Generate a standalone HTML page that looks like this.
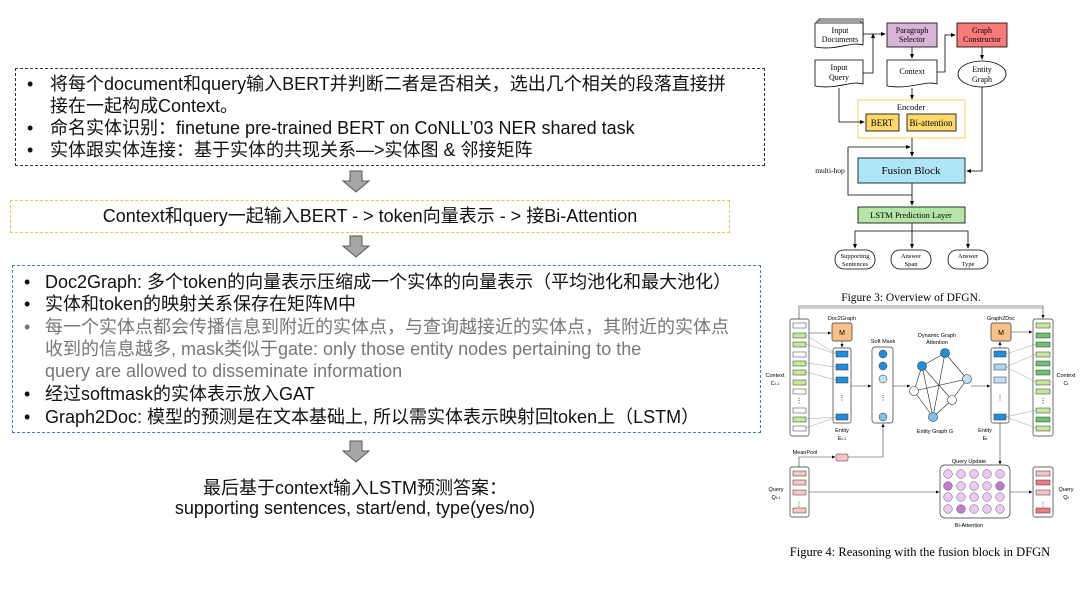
<!DOCTYPE html>
<html><head><meta charset="utf-8"><style>
body{margin:0;width:1080px;height:610px;background:#fff;position:relative;overflow:hidden;font-family:"Liberation Sans","Noto Sans CJK SC",sans-serif;}
.l{position:absolute;white-space:nowrap;font-size:18px;color:#111;line-height:22px;}
.g{color:#777;}
.box{position:absolute;border-style:dashed;border-width:1.5px;}
svg{position:absolute;left:0;top:0;}
</style></head><body>
<div class="box" style="left:15px;top:68px;width:748px;height:96px;border-color:#333"></div>
<div class="l" style="left:27px;top:73px">•</div>
<div class="l" style="left:50px;top:73px">将每个document和query输入BERT并判断二者是否相关，选出几个相关的段落直接拼</div>
<div class="l" style="left:50px;top:95px">接在一起构成Context。</div>
<div class="l" style="left:27px;top:117px">•</div>
<div class="l" style="left:50px;top:117px">命名实体识别：finetune pre-trained BERT on CoNLL’03 NER shared task</div>
<div class="l" style="left:27px;top:139px">•</div>
<div class="l" style="left:50px;top:139px">实体跟实体连接：基于实体的共现关系—>实体图 &amp; 邻接矩阵</div>

<div class="box" style="left:10px;top:200px;width:718px;height:31px;border-color:#f5c342"></div>
<div class="l" style="left:0;width:740px;text-align:center;top:205px">Context和query一起输入BERT - &gt; token向量表示 - &gt; 接Bi-Attention</div>

<div class="box" style="left:12px;top:265px;width:747px;height:166px;border-color:#3a7fc8"></div>
<div class="l" style="left:24px;top:271px">•</div>
<div class="l" style="left:45px;top:271px">Doc2Graph: 多个token的向量表示压缩成一个实体的向量表示（平均池化和最大池化）</div>
<div class="l" style="left:24px;top:293px">•</div>
<div class="l" style="left:45px;top:293px">实体和token的映射关系保存在矩阵M中</div>
<div class="l g" style="left:24px;top:316px">•</div>
<div class="l g" style="left:45px;top:316px">每一个实体点都会传播信息到附近的实体点，与查询越接近的实体点，其附近的实体点</div>
<div class="l g" style="left:45px;top:338px">收到的信息越多, mask类似于gate: only those entity nodes pertaining to the</div>
<div class="l g" style="left:45px;top:360px">query are allowed to disseminate information</div>
<div class="l" style="left:24px;top:383px">•</div>
<div class="l" style="left:45px;top:383px">经过softmask的实体表示放入GAT</div>
<div class="l" style="left:24px;top:406px">•</div>
<div class="l" style="left:45px;top:406px">Graph2Doc: 模型的预测是在文本基础上, 所以需实体表示映射回token上（LSTM）</div>

<div class="l" style="left:0;width:710px;text-align:center;top:477px">最后基于context输入LSTM预测答案：</div>
<div class="l" style="left:0;width:710px;text-align:center;top:497px">supporting sentences, start/end, type(yes/no)</div>

<svg width="1080" height="610" viewBox="0 0 1080 610" font-family="Liberation Serif, serif">
<defs>
<marker id="a" markerWidth="6" markerHeight="6" refX="5" refY="3" orient="auto"><path d="M0,0.5L6,3L0,5.5z" fill="#000"/></marker>
<g id="ga"><path d="M-6,0h12v10h7l-13,11l-13,-11h7z" fill="#a6a6a6" stroke="#555" stroke-width="1"/></g>
</defs>
<use href="#ga" x="356" y="171"/>
<use href="#ga" x="356" y="236"/>
<use href="#ga" x="356" y="441"/>

<g stroke="#000" stroke-width="0.8" fill="#fff" font-size="8">
<path d="M819,19h44v22c-10,-4 -24,6 -44,2z"/>
<path d="M817,21h44v22c-10,-4 -24,6 -44,2z"/>
<path d="M815,23h48v22c-12,-4 -26,6 -48,2z"/>
<rect x="887" y="23" width="50" height="24" fill="#d8b4d8"/>
<rect x="957" y="23" width="50" height="24" fill="#f97a7a"/>
<path d="M815,60h48v24c-12,-4 -26,6 -48,2z"/>
<path d="M887,60h50v24c-12,-4 -26,6 -50,2z"/>
<ellipse cx="982" cy="74" rx="24" ry="13"/>
<rect x="858" y="100" width="107" height="38" stroke="#fbe08a" stroke-width="1.5"/>
<rect x="866" y="114" width="33" height="17" fill="#fdd86a"/>
<rect x="907" y="114" width="49" height="17" fill="#fdd86a"/>
<rect x="858" y="158" width="107" height="25" fill="#aee5f7"/>
<rect x="858" y="207" width="107" height="16" fill="#b6e6a6"/>
<rect x="835" y="250" width="40" height="19" rx="9"/>
<rect x="891" y="250" width="40" height="19" rx="9"/>
<rect x="948" y="250" width="40" height="19" rx="9"/>
<g fill="none" marker-end="url(#a)">
<path d="M863,34h22"/><path d="M863,73h10v-39"/>
<path d="M912,47v11"/><path d="M937,72h8v-37h10"/>
<path d="M982,47v12"/><path d="M912,88v11"/>
<path d="M839,88v34h25"/>
<path d="M912,138v18"/><path d="M848,147v48h64" marker-end="none"/><path d="M848,147h62"/>
<path d="M982,87v84h-15"/>
<path d="M912,183v22"/>
<path d="M912,223v8h-57v17"/><path d="M912,231v17"/><path d="M912,231h56v17"/>
</g>
<g fill="#000" stroke="none" text-anchor="middle">
<text x="840" y="33">Input</text><text x="840" y="42">Documents</text>
<text x="912" y="33">Paragraph</text><text x="912" y="42">Selector</text>
<text x="982" y="33">Graph</text><text x="982" y="42">Constructor</text>
<text x="839" y="70">Input</text><text x="839" y="80">Query</text>
<text x="912" y="74">Context</text>
<text x="982" y="72">Entity</text><text x="982" y="82">Graph</text>
<text x="911" y="110" font-size="8.5">Encoder</text>
<text x="882" y="126" font-size="9">BERT</text><text x="931" y="126" font-size="9">Bi-attention</text>
<text x="911" y="174" font-size="11">Fusion Block</text>
<text x="911" y="218" font-size="8.5">LSTM Prediction Layer</text>
<text x="830" y="173" font-size="7.5">multi-hop</text>
<text x="855" y="258" font-size="6.5">Supporting</text><text x="855" y="266" font-size="6.5">Sentences</text>
<text x="911" y="258" font-size="6.5">Answer</text><text x="911" y="266" font-size="6.5">Span</text>
<text x="968" y="258" font-size="6.5">Answer</text><text x="968" y="266" font-size="6.5">Type</text>
<text x="911" y="301" font-size="11.5">Figure 3: Overview of DFGN.</text>
</g>
</g>
<line x1="800" y1="308" x2="1043" y2="308" stroke="#888" stroke-width="0.8"/>

<g stroke="#333" stroke-width="0.7" font-family="Liberation Sans, sans-serif" font-size="5.5">
<rect x="790" y="319" width="19" height="117" rx="2" fill="#fff"/>
<g stroke-width="0.5">
<rect x="793" y="323" width="13" height="5" fill="#fff"/><rect x="793" y="333" width="13" height="5" fill="#c6e89a"/>
<rect x="793" y="342" width="13" height="5" fill="#c6e89a"/><rect x="793" y="352" width="13" height="5" fill="#fff"/>
<rect x="793" y="361" width="13" height="5" fill="#c6e89a"/><rect x="793" y="370" width="13" height="5" fill="#c6e89a"/>
<rect x="793" y="380" width="13" height="5" fill="#c6e89a"/><rect x="793" y="389" width="13" height="5" fill="#fff"/>
<rect x="793" y="408" width="13" height="5" fill="#fff"/><rect x="793" y="417" width="13" height="5" fill="#c6e89a"/>
<rect x="793" y="426" width="13" height="5" fill="#fff"/>
</g>
<rect x="832" y="323" width="20" height="18" rx="2" fill="#f9c08a"/>
<rect x="833" y="348" width="18" height="75" rx="2" fill="#fff"/>
<g stroke-width="0.5" fill="#1e8fe0">
<rect x="836" y="351" width="12" height="6"/><rect x="836" y="364" width="12" height="6"/>
<rect x="836" y="377" width="12" height="6"/><rect x="836" y="414" width="12" height="6"/>
</g>
<rect x="872" y="347" width="21" height="76" rx="3" fill="#fff"/>
<g stroke-width="0.5">
<circle cx="883" cy="354" r="4" fill="#1e8fe0"/><circle cx="883" cy="366" r="4" fill="#1e8fe0"/>
<circle cx="883" cy="379" r="4" fill="#bfe0f7"/><circle cx="883" cy="417" r="4" fill="#7cc0f0"/>
</g>
<g stroke="#222" stroke-width="0.6">
<line x1="922" y1="366" x2="945" y2="353"/><line x1="922" y1="366" x2="914" y2="391"/>
<line x1="922" y1="366" x2="933" y2="417"/><line x1="922" y1="366" x2="952" y2="400"/>
<line x1="945" y1="353" x2="967" y2="379"/><line x1="945" y1="353" x2="933" y2="417"/>
<line x1="914" y1="391" x2="967" y2="379"/><line x1="914" y1="391" x2="933" y2="417"/>
<line x1="952" y1="400" x2="967" y2="379"/><line x1="952" y1="400" x2="933" y2="417"/>
</g>
<g stroke-width="0.6">
<circle cx="922" cy="366" r="4.5" fill="#1e8fe0"/><circle cx="945" cy="353" r="4.5" fill="#1e8fe0"/>
<circle cx="967" cy="379" r="4.5" fill="#bfe0f7"/><circle cx="914" cy="391" r="4.5" fill="#fff"/>
<circle cx="952" cy="400" r="4.5" fill="#fff"/><circle cx="933" cy="417" r="4.5" fill="#7cc0f0"/>
</g>
<rect x="991" y="323" width="20" height="18" rx="2" fill="#f9c08a"/>
<rect x="991" y="348" width="18" height="75" rx="2" fill="#fff"/>
<g stroke-width="0.5">
<rect x="994" y="351" width="12" height="6" fill="#1e8fe0"/><rect x="994" y="364" width="12" height="6" fill="#a8d4f5"/>
<rect x="994" y="377" width="12" height="6" fill="#bfe0f7"/><rect x="994" y="414" width="12" height="6" fill="#1e8fe0"/>
</g>
<rect x="1033" y="319" width="20" height="117" rx="2" fill="#fff"/>
<g stroke-width="0.5">
<rect x="1036" y="323" width="14" height="5" fill="#c6e89a"/><rect x="1036" y="333" width="14" height="5" fill="#6cc46c"/>
<rect x="1036" y="342" width="14" height="5" fill="#6cc46c"/><rect x="1036" y="352" width="14" height="5" fill="#c6e89a"/>
<rect x="1036" y="361" width="14" height="5" fill="#6cc46c"/><rect x="1036" y="370" width="14" height="5" fill="#6cc46c"/>
<rect x="1036" y="380" width="14" height="5" fill="#c6e89a"/><rect x="1036" y="389" width="14" height="5" fill="#c6e89a"/>
<rect x="1036" y="408" width="14" height="5" fill="#c6e89a"/><rect x="1036" y="417" width="14" height="5" fill="#6cc46c"/>
<rect x="1036" y="426" width="14" height="5" fill="#c6e89a"/>
</g>
<g stroke="#888" stroke-width="0.4">
<line x1="806" y1="335" x2="836" y2="354"/><line x1="806" y1="344" x2="836" y2="354"/>
<line x1="806" y1="363" x2="836" y2="367"/><line x1="806" y1="372" x2="836" y2="380"/>
<line x1="806" y1="419" x2="836" y2="417"/><line x1="806" y1="428" x2="836" y2="417"/>
<line x1="1006" y1="354" x2="1036" y2="344"/><line x1="1006" y1="367" x2="1036" y2="354"/>
<line x1="1006" y1="367" x2="1036" y2="382"/><line x1="1006" y1="417" x2="1036" y2="410"/>
<line x1="1006" y1="417" x2="1036" y2="428"/>
</g>
<rect x="790" y="467" width="19" height="50" rx="2" fill="#fff"/>
<g stroke-width="0.5" fill="#f7c4c8">
<rect x="793" y="471" width="13" height="5"/><rect x="793" y="480" width="13" height="5"/>
<rect x="793" y="490" width="13" height="5"/><rect x="793" y="508" width="13" height="5"/>
</g>
<rect x="836" y="454" width="12" height="7" rx="1.5" fill="#f7c4c8" stroke-width="0.5"/>
<rect x="940" y="465" width="70" height="53" rx="5" fill="#fff"/>
<g stroke-width="0.4" fill="#ecc8f5">
<circle cx="948" cy="474" r="4.3"/><circle cx="961" cy="474" r="4.3"/><circle cx="974" cy="474" r="4.3"/><circle cx="987" cy="474" r="4.3"/><circle cx="1000" cy="474" r="4.3"/>
<circle cx="948" cy="486" r="4.3" fill="#c07ad0"/><circle cx="961" cy="486" r="4.3"/><circle cx="974" cy="486" r="4.3"/><circle cx="987" cy="486" r="4.3"/><circle cx="1000" cy="486" r="4.3" fill="#c07ad0"/>
<circle cx="948" cy="497" r="4.3"/><circle cx="961" cy="497" r="4.3"/><circle cx="974" cy="497" r="4.3"/><circle cx="987" cy="497" r="4.3"/><circle cx="1000" cy="497" r="4.3"/>
<circle cx="948" cy="509" r="4.3"/><circle cx="961" cy="509" r="4.3" fill="#c07ad0"/><circle cx="974" cy="509" r="4.3"/><circle cx="987" cy="509" r="4.3"/><circle cx="1000" cy="509" r="4.3"/>
</g>
<rect x="1033" y="467" width="20" height="50" rx="2" fill="#fff"/>
<g stroke-width="0.5">
<rect x="1036" y="471" width="14" height="5" fill="#f7c4c8"/><rect x="1036" y="480" width="14" height="5" fill="#f07a88"/>
<rect x="1036" y="490" width="14" height="5" fill="#f7c4c8"/><rect x="1036" y="508" width="14" height="5" fill="#f07a88"/>
</g>
<g fill="none" stroke="#333" stroke-width="0.6" marker-end="url(#a)">
<path d="M799,319v-13h244v12"/>
<path d="M809,333h22"/><path d="M842,341v6"/>
<path d="M851,386h20"/><path d="M893,386h17"/><path d="M971,386h19"/>
<path d="M1000,347v-5"/><path d="M1011,332h21"/>
<path d="M1000,423v41"/>
<path d="M799,467v-10h36"/><path d="M848,457h35v-33"/>
<path d="M809,492h130"/><path d="M1010,492h22"/>
</g>
<g fill="#000" stroke="none" text-anchor="middle">
<text x="842" y="320">Doc2Graph</text><text x="1001" y="320">Graph2Doc</text>
<text x="842" y="335" font-size="7">M</text><text x="1001" y="335" font-size="7">M</text>
<text x="883" y="343">Soft Mask</text>
<text x="937" y="337">Dynamic Graph</text><text x="937" y="344">Attention</text>
<text x="935" y="433">Entity Graph G</text>
<text x="842" y="432">Entity</text><text x="842" y="440">E<tspan font-size="4">t-1</tspan></text>
<text x="985" y="432">Entity</text><text x="985" y="440">E<tspan font-size="4">t</tspan></text>
<text x="775" y="377">Context</text><text x="775" y="385">C<tspan font-size="4">t-1</tspan></text>
<text x="1066" y="377">Context</text><text x="1066" y="385">C<tspan font-size="4">t</tspan></text>
<text x="805" y="454">MeanPool</text>
<text x="969" y="463">Query Update</text>
<text x="969" y="527">Bi-Attention</text>
<text x="776" y="491">Query</text><text x="776" y="499">Q<tspan font-size="4">t-1</tspan></text>
<text x="1066" y="491">Query</text><text x="1066" y="499">Q<tspan font-size="4">t</tspan></text>
<text x="799" y="403" font-size="7">⋮</text><text x="842" y="400" font-size="7">⋮</text>
<text x="883" y="400" font-size="7">⋮</text><text x="1000" y="400" font-size="7">⋮</text>
<text x="1043" y="403" font-size="7">⋮</text><text x="799" y="506" font-size="6">⋮</text>
<text x="1043" y="506" font-size="6">⋮</text>
<text x="920" y="556" font-family="Liberation Serif, serif" font-size="12.5">Figure 4: Reasoning with the fusion block in DFGN</text>
</g>
</g>
</svg>
</body></html>
